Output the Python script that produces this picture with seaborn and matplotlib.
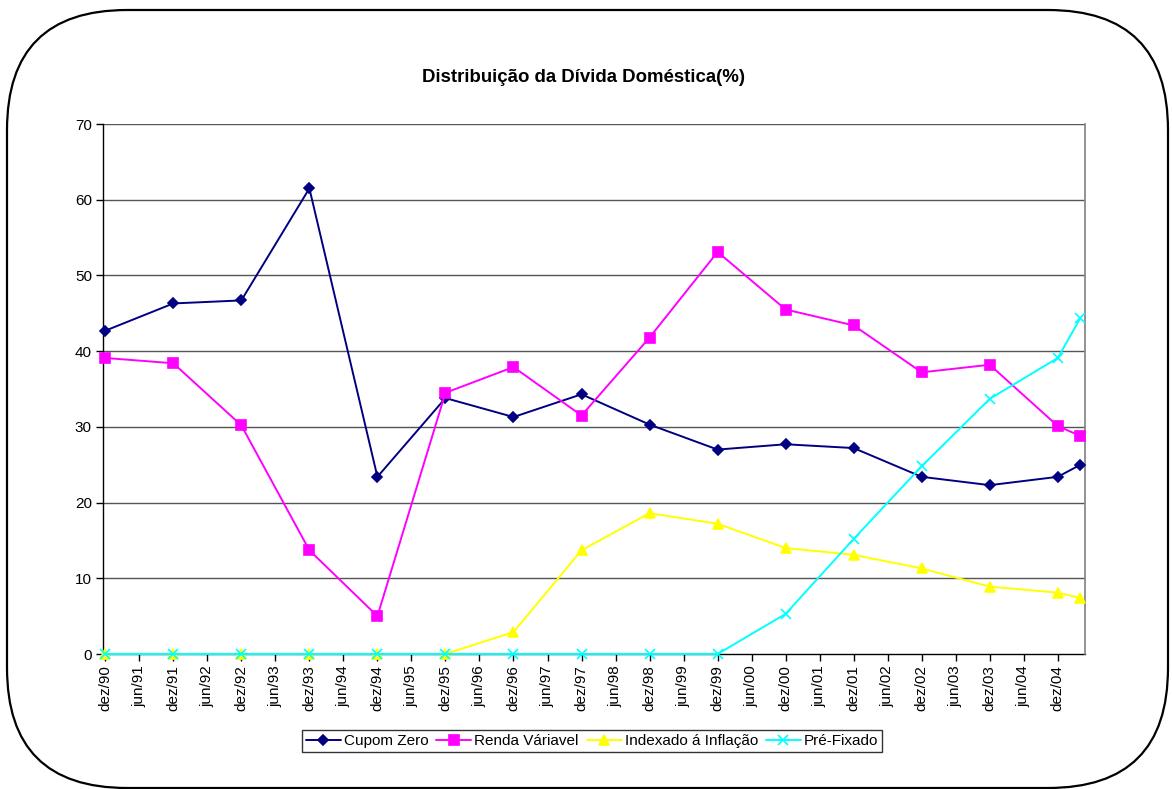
import matplotlib
matplotlib.use("Agg")
import matplotlib.pyplot as plt
import seaborn as sns
import pandas as pd
from matplotlib.patches import FancyBboxPatch
from matplotlib.transforms import IdentityTransform

# meses desde dez/90 de cada observação (a última é abr/05)
meses = [0, 12, 24, 36, 48, 60, 72, 84, 96, 108, 120, 132, 144, 156, 168, 172]

cupom_zero = [42.7, 46.3, 46.7, 61.5, 23.4, 33.8, 31.3, 34.3, 30.3, 27.0, 27.7, 27.2, 23.4, 22.3, 23.4, 25.0]
renda_variavel = [39.1, 38.4, 30.2, 13.7, 5.0, 34.5, 37.9, 31.5, 41.8, 53.1, 45.5, 43.4, 37.2, 38.2, 30.1, 28.8]
indexado_inflacao = [0, 0, 0, 0, 0, 0, 2.9, 13.7, 18.6, 17.2, 14.0, 13.1, 11.3, 8.9, 8.1, 7.4]
pre_fixado = [0, 0, 0, 0, 0, 0, 0, 0, 0, 0, 5.3, 15.2, 24.8, 33.7, 39.1, 44.4]

series = ["Cupom Zero", "Renda Váriavel", "Indexado á Inflação", "Pré-Fixado"]
cores = ["#000080", "#FF00FF", "#FFFF00", "#00FFFF"]
marcadores = ["D", "s", "^", "x"]
tamanhos = [5.5, 7, 7.5, 7.5]

rotulos_x = ["dez/90", "jun/91", "dez/91", "jun/92", "dez/92", "jun/93", "dez/93", "jun/94",
             "dez/94", "jun/95", "dez/95", "jun/96", "dez/96", "jun/97", "dez/97", "jun/98",
             "dez/98", "jun/99", "dez/99", "jun/00", "dez/00", "jun/01", "dez/01", "jun/02",
             "dez/02", "jun/03", "dez/03", "jun/04", "dez/04"]

df = pd.concat([
    pd.DataFrame({"mes": meses, "valor": v, "serie": s})
    for s, v in zip(series, [cupom_zero, renda_variavel, indexado_inflacao, pre_fixado])
])

sns.set_style("white")
plt.rcParams['font.family'] = ['Liberation Sans', 'DejaVu Sans']
plt.rcParams.update({"text.color": "black", "xtick.color": "black",
                     "ytick.color": "black", "axes.labelcolor": "black"})

fig = plt.figure(figsize=(11.72, 7.89), dpi=100)
ax = fig.add_axes([103 / 1172, 1 - 654 / 789, 982 / 1172, 530 / 789])

for y in range(10, 80, 10):
    ax.axhline(y, color="#555555", lw=1.0, zorder=0)

for s, cor, mk, ms in zip(series, cores, marcadores, tamanhos):
    sns.lineplot(data=df[df["serie"] == s], x="mes", y="valor", color=cor, marker=mk,
                 markersize=ms, markeredgecolor=cor, markeredgewidth=1.2, lw=1.4,
                 label=s, ax=ax, clip_on=False, zorder=3)

ax.set_xlim(-0.4, 172.8)
ax.set_ylim(0, 70)
ax.set_yticks(range(0, 80, 10))
ax.set_xticks([6 * i for i in range(len(rotulos_x))])
ax.set_xticklabels(rotulos_x, rotation=90, fontsize=11)
ax.tick_params(axis="y", labelsize=11, length=5, width=1, direction="out", left=True, pad=3)
ax.tick_params(axis="x", length=5, width=1, direction="out", bottom=True, pad=3)
ax.set_xlabel("")
ax.set_ylabel("")

for lado in ["left", "bottom"]:
    ax.spines[lado].set_color("black")
    ax.spines[lado].set_linewidth(1.0)
    ax.spines[lado].set_zorder(2)
ax.spines["right"].set_color("#808080")
ax.spines["right"].set_linewidth(1.2)
ax.spines["top"].set_visible(False)

handles, labels = ax.get_legend_handles_labels()
ax.legend_.remove()
leg = fig.legend(handles, labels, loc="center", bbox_to_anchor=(592 / 1172, 1 - 741 / 789),
                 ncol=4, frameon=True, fancybox=False, fontsize=11, handlelength=2.3,
                 handletextpad=0.2, columnspacing=0.5, borderpad=0.25, borderaxespad=0)
leg.get_frame().set_edgecolor("black")
leg.get_frame().set_linewidth(1.0)

fig.text(584 / 1172, 1 - 77 / 789, "Distribuição da Dívida Doméstica(%)",
         ha="center", va="center", fontsize=13.4, fontweight="bold")

caixa = FancyBboxPatch((7, 1), 1161, 778, boxstyle="round,pad=0,rounding_size=120",
                       transform=IdentityTransform(), fill=False, edgecolor="black", lw=1.6)
fig.add_artist(caixa)

fig.savefig("out.png", dpi=100)
